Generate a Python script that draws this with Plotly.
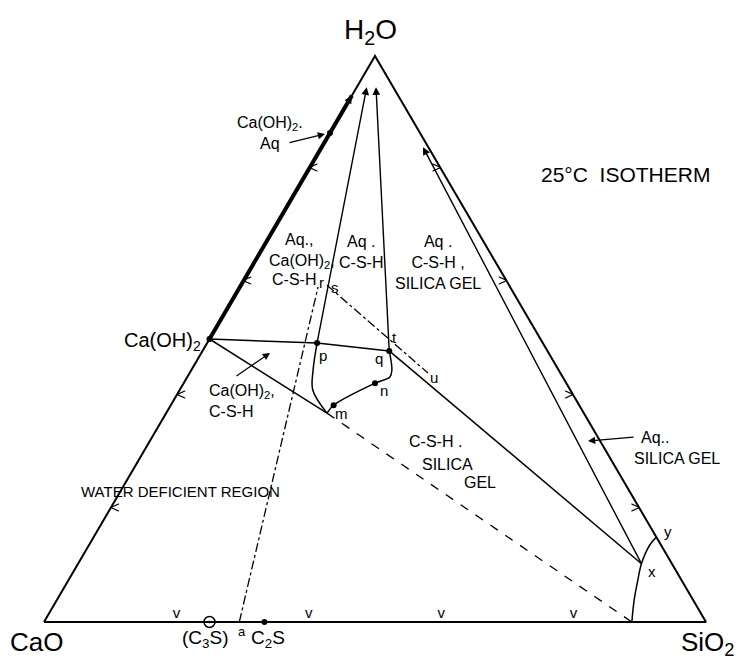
import plotly.graph_objects as go

# CaO - SiO2 - H2O, 25 C isotherm
# every point is a mole fraction pair (SiO2, H2O); CaO makes up the rest

ca_oh2 = (0.0, 0.5)
c3s = (0.25, 0.0)
c2s = (0.333, 0.0)
pt_a = (0.295, 0.0)
pt_p = (0.166, 0.493)
pt_q = (0.282, 0.479)
pt_n = (0.289, 0.422)
pt_m = (0.246, 0.383)
pt_x = (0.851, 0.103)
pt_y = (0.850, 0.150)
pt_r = (0.118, 0.592)
pt_s = (0.130, 0.595)
pt_u = (0.360, 0.440)
csh_low = (0.243, 0.369)      # loop meets the Ca(OH)2 - SiO2 join
gel_base = (0.888, 0.0)
aq_dot = (0.0, 0.864)
thick_top = (0.0, 0.93)
p_tip = (0.015, 0.945)
q_tip = (0.029, 0.945)
x_tip = (0.153, 0.839)

p_curve_si = [0.166, 0.184, 0.201, 0.243]
p_curve_w = [0.493, 0.445, 0.410, 0.369]
q_curve_si = [0.282, 0.303, 0.306, 0.289, 0.246, 0.243]
q_curve_w = [0.479, 0.445, 0.433, 0.422, 0.383, 0.369]
xy_curve_si = [0.888, 0.872, 0.860, 0.851, 0.847, 0.850]
xy_curve_w = [0.0, 0.039, 0.074, 0.103, 0.136, 0.150]

tick_fracs = [0.2, 0.4, 0.6, 0.8]

# the page body keeps its 8px margin, so the figure is 8px smaller than the window
PAD = 8
W, H = 742 - PAD, 660 - PAD
FONT = "Liberation Sans, Arial, sans-serif"


def tx(si, w):
    return si + w / 2.0, w


def line(pts, width=1.5, dash="solid", shape="linear"):
    xs, ys = zip(*[tx(*p) for p in pts])
    return go.Scatter(x=xs, y=ys, mode="lines", hoverinfo="skip",
                      line=dict(color="black", width=width, dash=dash, shape=shape))


def curve(si, w, width=1.5):
    return line(list(zip(si, w)), width=width, shape="spline")


fig = go.Figure()

# triangle
fig.add_trace(line([(0, 0), (1, 0), (0, 1), (0, 0)], width=2))
fig.add_trace(line([ca_oh2, thick_top], width=4))

# joins
fig.add_trace(line([ca_oh2, pt_p, pt_q], width=1.5))
fig.add_trace(line([ca_oh2, csh_low], width=1.5))
fig.add_trace(line([csh_low, gel_base], width=1.3, dash="dash"))
fig.add_trace(line([pt_q, pt_x], width=1.5))
fig.add_trace(line([pt_a, pt_r], width=1.3, dash="dashdot"))
fig.add_trace(line([pt_s, pt_u], width=1.3, dash="dashdot"))

# C-S-H loop and the silica gel boundary
fig.add_trace(curve(p_curve_si, p_curve_w))
fig.add_trace(curve(q_curve_si, q_curve_w))
fig.add_trace(curve(xy_curve_si, xy_curve_w))

# points
dots = [ca_oh2, pt_p, pt_q, pt_n, pt_m, aq_dot, c2s]
dx, dy = zip(*[tx(*p) for p in dots])
fig.add_trace(go.Scatter(x=dx, y=dy, mode="markers", hoverinfo="skip",
                         marker=dict(color="black", size=6)))
cx, cy = tx(*c3s)
fig.add_trace(go.Scatter(x=[cx], y=[cy], mode="markers", hoverinfo="skip",
                         marker=dict(color="black", size=11, symbol="circle-open-dot",
                                     line=dict(width=1.5))))

# direction marks along the edges
left = [tx(0, f) for f in tick_fracs]
right = [tx(1 - f, f) for f in tick_fracs]
base = [tx(f, 0) for f in tick_fracs]
for pts, glyph, pos, size in [(left, "<", "middle right", 16), (right, ">", "middle left", 16),
                              (base, "v", "top center", 15)]:
    xs, ys = zip(*pts)
    fig.add_trace(go.Scatter(x=xs, y=ys, mode="text", text=[glyph] * len(xs),
                             textposition=pos, hoverinfo="skip",
                             textfont=dict(family=FONT, size=size, color="black")))

# tie lines running up towards H2O
for start, tip in [(pt_p, p_tip), (pt_q, q_tip), (pt_x, x_tip), (ca_oh2, thick_top)]:
    x0, y0 = tx(*start)
    x1, y1 = tx(*tip)
    fig.add_annotation(x=x1, y=y1, ax=x0, ay=y0, xref="x", yref="y", axref="x", ayref="y",
                       text="", showarrow=True, arrowhead=2, arrowsize=1.1,
                       arrowwidth=1.4, arrowcolor="black", standoff=0)


def px(xp, yp):
    # position in the 742x660 window -> axis units
    return (xp - 44) / 662.0, (622 - yp) / 566.0


def lab(text, xp, yp, size=16, **kw):
    x, y = px(xp, yp)
    fig.add_annotation(x=x, y=y, xref="x", yref="y", text=text, showarrow=False,
                       font=dict(family=FONT, size=size, color="black"), **kw)


def pointer(xp0, yp0, xp1, yp1):
    x0, y0 = px(xp0, yp0)
    x1, y1 = px(xp1, yp1)
    fig.add_annotation(x=x1, y=y1, ax=x0, ay=y0, xref="x", yref="y", axref="x", ayref="y",
                       text="", showarrow=True, arrowhead=2, arrowsize=1.2,
                       arrowwidth=1.2, arrowcolor="black", standoff=0)


lab("H<sub>2</sub>O", 370, 31, size=28)
lab("CaO", 36, 642, size=26)
lab("SiO<sub>2</sub>", 707, 643, size=26)
lab("Ca(OH)<sub>2</sub>", 162, 341, size=20)
lab("25°C  ISOTHERM", 625, 174, size=21)
lab("(C<sub>3</sub>S)", 205, 639, size=19)
lab("a", 242, 631, size=13)
lab("C<sub>2</sub>S", 268, 639, size=19)

lab("Ca(OH)<sub>2</sub>.<br>Aq", 270, 133)
lab("Aq.,", 299, 239)
lab("Ca(OH)<sub>2</sub>,", 302, 261)
lab("C-S-H", 294, 279)
lab("Aq .<br>C-S-H", 361, 252)
lab("Aq .<br>C-S-H ,<br>SILICA GEL", 438, 262)
lab("Ca(OH)<sub>2</sub>,<br>C-S-H", 207, 401, xanchor="left", align="left")
lab("C-S-H .", 435, 441)
lab("SILICA", 447, 464)
lab("GEL", 480, 482)
lab("Aq..", 655, 437)
lab("SILICA GEL", 677, 458)
lab("WATER DEFICIENT REGION", 180, 491, size=15)

for t, xp, yp in [("p", 323, 355), ("q", 379, 358), ("t", 394, 337), ("n", 384, 390),
                  ("m", 341, 413), ("u", 434, 377), ("r", 321, 282), ("s", 335, 287),
                  ("x", 652, 571), ("y", 668, 531)]:
    lab(t, xp, yp, size=15)

pointer(288, 143, 325, 134)
pointer(235, 377, 270, 353)
pointer(635, 437, 588, 441)

fig.update_layout(
    width=W, height=H, showlegend=False,
    margin=dict(l=0, r=0, t=0, b=0),
    paper_bgcolor="white", plot_bgcolor="white",
    xaxis=dict(visible=False, range=[-(44 - PAD) / 662.0, (W - 44 + PAD) / 662.0]),
    yaxis=dict(visible=False, range=[-(H - 622 + PAD) / 566.0, 1 + (56 - PAD) / 566.0]),
)

fig.write_html("out.html")
